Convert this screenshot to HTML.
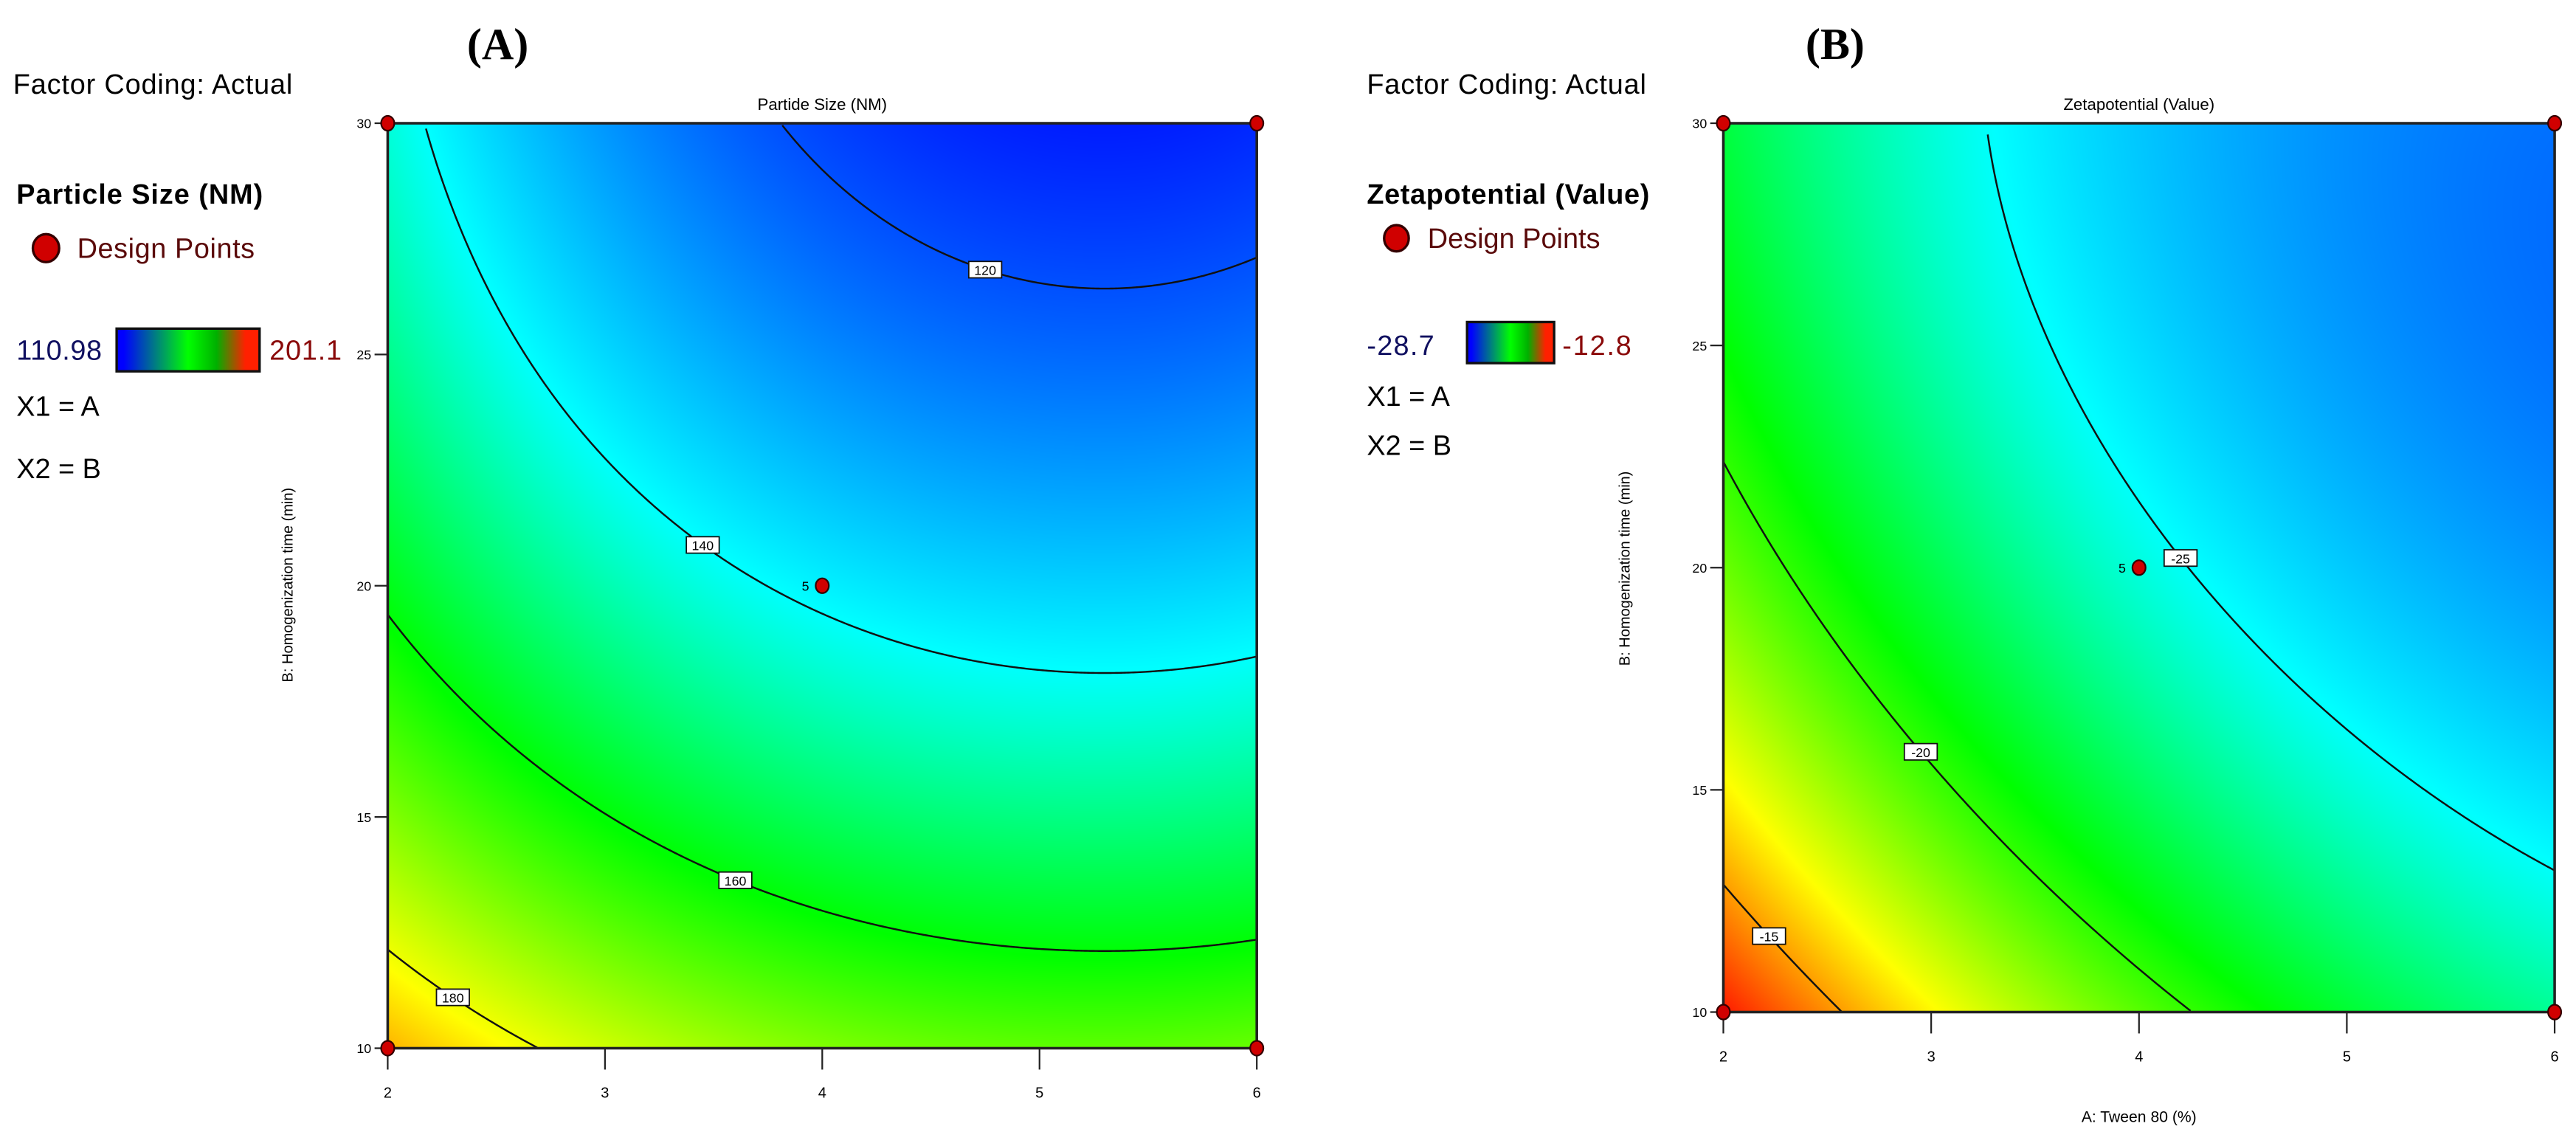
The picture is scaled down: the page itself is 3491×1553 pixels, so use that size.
<!DOCTYPE html>
<html><head><meta charset="utf-8">
<style>
html,body{margin:0;padding:0;background:#fff;}
#wrap{position:relative;width:3491px;height:1553px;overflow:hidden;background:#fff;}
canvas{position:absolute;}
svg{position:absolute;left:0;top:0;}
text{font-family:"Liberation Sans",sans-serif;}
</style></head>
<body>
<div id="wrap">
<canvas id="cvA"></canvas>
<canvas id="cvB"></canvas>
<svg id="svg" width="3491" height="1553" viewBox="0 0 1568 697.5">
 <g>
  <text x="303" y="36" text-anchor="middle" font-weight="bold" font-size="27" style="font-family:'Liberation Serif',serif">(A)</text>
  <text x="8" y="57" font-size="17" textLength="170">Factor Coding: Actual</text>
  <text x="10" y="124" font-size="17" font-weight="bold" textLength="150">Particle Size (NM)</text>
  <ellipse cx="28" cy="151" rx="8" ry="8.5" fill="#d00000" stroke="#300" stroke-width="1.5"/>
  <text x="47" y="157" font-size="17" fill="#5a0a0a" textLength="108">Design Points</text>
  <text x="10" y="219" font-size="17" fill="#101060" textLength="52">110.98</text>
  <rect x="71" y="200" width="87" height="26" fill="url(#cbar)" stroke="#111" stroke-width="1.5"/>
  <text x="164" y="219" font-size="17" fill="#8a0a0a" textLength="44">201.1</text>
  <text x="10" y="253" font-size="17">X1 = A</text>
  <text x="10" y="291" font-size="17">X2 = B</text>
 </g>
 <g>
  <text x="1117" y="36" text-anchor="middle" font-weight="bold" font-size="27" style="font-family:'Liberation Serif',serif">(B)</text>
  <text x="832" y="57" font-size="17" textLength="170">Factor Coding: Actual</text>
  <text x="832" y="124" font-size="17" font-weight="bold" textLength="172">Zetapotential (Value)</text>
  <ellipse cx="850" cy="145" rx="7.5" ry="8" fill="#d00000" stroke="#300" stroke-width="1.5"/>
  <text x="869" y="151" font-size="17" fill="#5a0a0a" textLength="105">Design Points</text>
  <text x="832" y="216" font-size="17" fill="#101060" textLength="41">-28.7</text>
  <rect x="893" y="196" width="53" height="25" fill="url(#cbar)" stroke="#111" stroke-width="1.5"/>
  <text x="951" y="216" font-size="17" fill="#8a0a0a" textLength="42">-12.8</text>
  <text x="832" y="247" font-size="17">X1 = A</text>
  <text x="832" y="277" font-size="17">X2 = B</text>
 </g>
 <defs>
  <linearGradient id="cbar" x1="0" x2="1" y1="0" y2="0">
   <stop offset="0.05" stop-color="#0000ff"/><stop offset="0.5" stop-color="#00ff00"/><stop offset="0.7" stop-color="#00b000"/><stop offset="0.9" stop-color="#ff2000"/>
  </linearGradient>
 </defs>
 <g id="plotA"></g>
 <g id="plotB"></g>
</svg>
</div>
<script>
// ---- data ----
const xTicks = [2, 3, 4, 5, 6];
const yTicks = [10, 15, 20, 25, 30];
const designA = [[2, 10], [2, 30], [6, 10], [6, 30], [4, 20]];
const designB = [[2, 10], [2, 30], [6, 10], [6, 30], [4, 20]];
const centerReplicates = [5];
// Particle size model: g(B)=p+qB+rB^2, curvature in A: (c0+c1B)(A-a0)^2
const sizeCoefB = [214.36, -5.27, 0.0643];
const sizeCoefA = [1.31, 0.0443, 5.3];
const sizeLevels = [120, 140, 160, 180];
const sizeLabelA = [4.75, 3.45, 3.6, 2.3];
const sizeColorRange = [110.98, 201.1];
// Zetapotential values read on grid: rows B = 10,15,20,25,30 ; cols A = 2..6
const zetaGridA = [2, 3, 4, 5, 6];
const zetaGridB = [10, 15, 20, 25, 30];
const zetaB10 = [-12.8, -16.4, -19.1, -21.5, -23.5];
const zetaB15 = [-16.2, -20.5, -22.6, -24.5, -25.6];
const zetaB20 = [-18.7, -22.0, -24.6, -26.3, -27.6];
const zetaB25 = [-21.3, -23.5, -25.6, -27.2, -28.1];
const zetaB30 = [-21.8, -24.4, -26.3, -27.8, -28.7];
const zetaLevels = [-25, -20, -15];
const zetaLabelA = [4.2, 2.95, 2.22];
const zetaColorRange = [-31, -12.5];
const colorStopsT = [0, 0.32, 0.55, 0.78, 1];
const colorStopsRGB = [[0,0,255],[0,255,255],[0,255,0],[255,255,0],[255,0,0]];

const S = 3491 / 1568;
const NS = 'http://www.w3.org/2000/svg';
const zetaRows = [zetaB10, zetaB15, zetaB20, zetaB25, zetaB30];

function sizeModel(a, b) {
  return sizeCoefB[0] + sizeCoefB[1]*b + sizeCoefB[2]*b*b + (sizeCoefA[0] + sizeCoefA[1]*b) * (a - sizeCoefA[2])**2;
}
function basis(a, b) { return [1, a, b, a*b, a*a, b*b]; }
function fitQuadratic() {
  const n = 6;
  const M = Array.from({length: n}, () => new Array(n + 1).fill(0));
  zetaGridB.forEach((b, j) => zetaGridA.forEach((a, i) => {
    const x = basis(a, b), y = zetaRows[j][i];
    for (let r = 0; r < n; r++) {
      for (let c = 0; c < n; c++) M[r][c] += x[r] * x[c];
      M[r][n] += x[r] * y;
    }
  }));
  for (let c = 0; c < n; c++) {
    let p = c;
    for (let r = c + 1; r < n; r++) if (Math.abs(M[r][c]) > Math.abs(M[p][c])) p = r;
    [M[c], M[p]] = [M[p], M[c]];
    for (let r = 0; r < n; r++) {
      if (r === c) continue;
      const f = M[r][c] / M[c][c];
      for (let k = c; k <= n; k++) M[r][k] -= f * M[c][k];
    }
  }
  return M.map((row, i) => row[n] / row[i]);
}
const zetaFit = fitQuadratic();
function zetaModel(a, b) {
  const x = basis(a, b);
  let s = 0; for (let i = 0; i < 6; i++) s += zetaFit[i] * x[i];
  return s;
}
function cmap(t) {
  t = Math.max(0, Math.min(1, t));
  for (let i = 1; i < colorStopsT.length; i++) {
    if (t <= colorStopsT[i]) {
      const u = (t - colorStopsT[i-1]) / (colorStopsT[i] - colorStopsT[i-1]);
      const c0 = colorStopsRGB[i-1], c1 = colorStopsRGB[i];
      return [0,1,2].map(k => Math.round(c0[k] + (c1[k]-c0[k]) * u));
    }
  }
  return colorStopsRGB[colorStopsRGB.length-1];
}
function mk(tag, attrs, parent) {
  const e = document.createElementNS(NS, tag);
  for (const k in attrs) e.setAttribute(k, attrs[k]);
  parent.appendChild(e);
  return e;
}

function drawPlot(cfg) {
  const {g, cv, x0, x1, y0, y1, model, range, levels, labelA, design, title, titleName, ylab, xlab} = cfg;
  const xs = a => x0 + (a - 2) / 4 * (x1 - x0);
  const ys = b => y1 - (b - 10) / 20 * (y1 - y0);
  const W = Math.round((x1 - x0) * S), H = Math.round((y1 - y0) * S);
  cv.width = W; cv.height = H;
  cv.style.left = (x0 * S) + 'px'; cv.style.top = (y0 * S) + 'px';
  const ctx = cv.getContext('2d');
  const img = ctx.createImageData(W, H);
  for (let j = 0; j < H; j++) {
    const b = 30 - (j + 0.5) / H * 20;
    for (let i = 0; i < W; i++) {
      const a = 2 + (i + 0.5) / W * 4;
      const c = cmap((model(a, b) - range[0]) / (range[1] - range[0]));
      const k = (j * W + i) * 4;
      img.data[k] = c[0]; img.data[k+1] = c[1]; img.data[k+2] = c[2]; img.data[k+3] = 255;
    }
  }
  ctx.putImageData(img, 0, 0);
  function crossB(a, L) {
    let prev = model(a, 10) - L;
    for (let m = 1; m <= 400; m++) {
      const b = 10 + 20 * m / 400;
      const v = model(a, b) - L;
      if (prev === 0) return b - 0.05;
      if ((prev < 0 && v >= 0) || (prev > 0 && v <= 0)) {
        let lo = b - 0.05, hi = b;
        for (let it = 0; it < 30; it++) {
          const mid = (lo + hi) / 2;
          if ((model(a, lo) - L) * (model(a, mid) - L) <= 0) hi = mid; else lo = mid;
        }
        return (lo + hi) / 2;
      }
      prev = v;
    }
    return null;
  }
  levels.forEach((L, li) => {
    let d = '', started = false;
    const N = 500;
    for (let s = 0; s <= N; s++) {
      const a = 2 + 4 * s / N;
      const found = crossB(a, L);
      if (found !== null) {
        d += (started ? 'L' : 'M') + xs(a).toFixed(2) + ',' + ys(found).toFixed(2);
        started = true;
      } else started = false;
    }
    const p = mk('path', {d: d, fill: 'none', stroke: '#111', 'stroke-width': 1.1}, g);
    
    
    const la = labelA[li];
    const lb = crossB(la, L);
    if (lb !== null) {
      const lx = xs(la), ly = ys(lb);
      const txt = String(L);
      const w = txt.length * 5 + 5;
      const r = mk('rect', {x: lx - w/2, y: ly - 5, width: w, height: 10, fill: '#fff', stroke: '#111', 'stroke-width': 0.8}, g);
      
      
      const t = mk('text', {x: lx, y: ly + 3.2, 'text-anchor': 'middle', 'font-size': 8}, g);
      t.textContent = txt;
      
      
    }
  });
  const fr = mk('rect', {x: x0, y: y0, width: x1 - x0, height: y1 - y0, fill: 'none', stroke: '#222', 'stroke-width': 1.6}, g);
  
  
  xTicks.forEach(v => {
    const l = mk('line', {x1: xs(v), x2: xs(v), y1: y1, y2: y1 + 13, stroke: '#222', 'stroke-width': 1}, g);
    
    
    const t = mk('text', {x: xs(v), y: y1 + 30, 'text-anchor': 'middle', 'font-size': 9}, g);
    t.textContent = v;
    
    
  });
  yTicks.forEach(v => {
    const l = mk('line', {x1: x0 - 8, x2: x0, y1: ys(v), y2: ys(v), stroke: '#222', 'stroke-width': 1}, g);
    
    
    const t = mk('text', {x: x0 - 10, y: ys(v) + 3, 'text-anchor': 'end', 'font-size': 8}, g);
    t.textContent = v;
    
    
  });
  design.forEach(pt => {
    const c = mk('ellipse', {cx: xs(pt[0]), cy: ys(pt[1]), rx: 4, ry: 4.5, fill: '#d00000', stroke: '#300', 'stroke-width': 1}, g);
    
    
    if (pt[0] === 4 && pt[1] === 20) {
      const t = mk('text', {x: xs(pt[0]) - 8, y: ys(pt[1]) + 3, 'text-anchor': 'end', 'font-size': 8}, g);
      t.textContent = centerReplicates[0];
      
      
    }
  });
  const tt = mk('text', {x: (x0 + x1) / 2, y: y0 - 8, 'text-anchor': 'middle', 'font-size': 10}, g);
  tt.textContent = title;
  
  
  const yl = mk('text', {x: 0, y: 0, 'text-anchor': 'middle', 'font-size': 9, transform: 'translate(' + ylab[0] + ',' + ylab[1] + ') rotate(-90)'}, g);
  yl.textContent = 'B: Homogenization time (min)';
  
  
  if (xlab) {
    const xl = mk('text', {x: (x0 + x1) / 2, y: xlab, 'text-anchor': 'middle', 'font-size': 9.5}, g);
    xl.textContent = 'A: Tween 80 (%)';
    
    
  }
}

drawPlot({g: document.getElementById('plotA'), cv: document.getElementById('cvA'),
  x0: 236, x1: 765, y0: 75, y1: 638, model: sizeModel, range: sizeColorRange,
  levels: sizeLevels, labelA: sizeLabelA, design: designA,
  title: 'Partide Size (NM)', titleName: 'plot-title-a', ylab: [178, 356], xlab: null});
drawPlot({g: document.getElementById('plotB'), cv: document.getElementById('cvB'),
  x0: 1049, x1: 1555, y0: 75, y1: 616, model: zetaModel, range: zetaColorRange,
  levels: zetaLevels, labelA: zetaLabelA, design: designB,
  title: 'Zetapotential (Value)', titleName: 'plot-title-b', ylab: [992, 346], xlab: 683});
</script>
</body></html>
